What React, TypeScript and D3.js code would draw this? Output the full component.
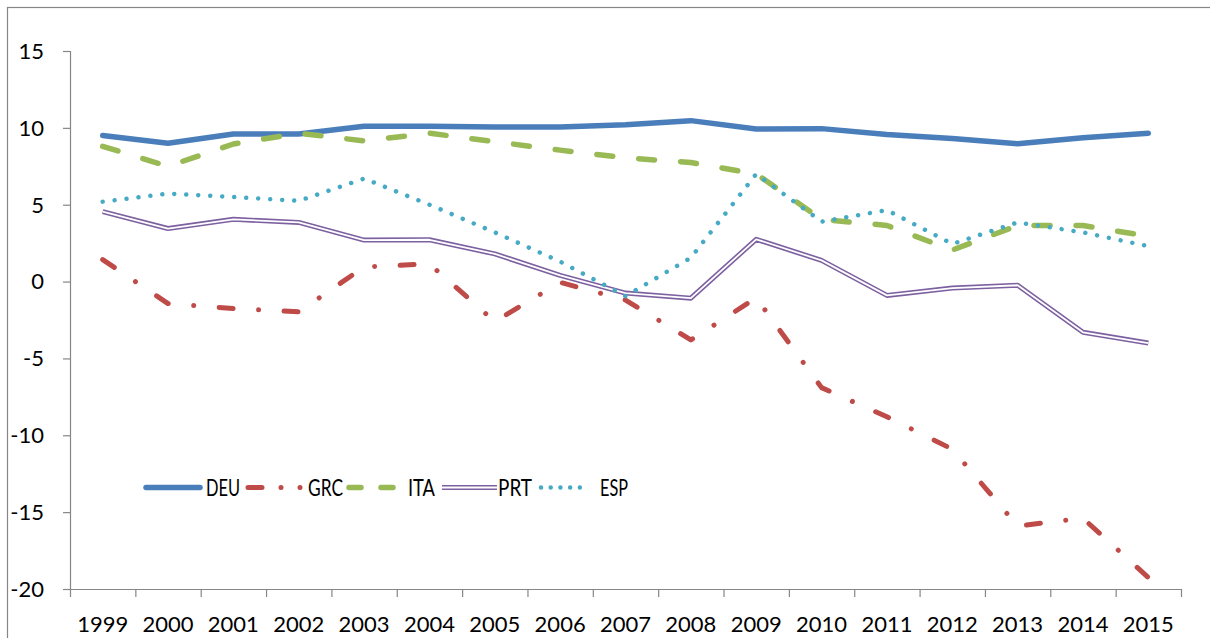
import * as React from "react"
import * as d3 from "d3"

const years = ["1999", "2000", "2001", "2002", "2003", "2004", "2005", "2006", "2007", "2008", "2009", "2010", "2011", "2012", "2013", "2014", "2015"]
const yTicks = [15, 10, 5, 0, -5, -10, -15, -20]

const deu = [9.5, 9.0, 9.6, 9.6, 10.1, 10.1, 10.05, 10.05, 10.2, 10.47, 9.93, 9.95, 9.57, 9.3, 8.97, 9.35, 9.65]
const grc = [1.43, -1.43, -1.75, -1.97, 0.95, 1.15, -2.6, -0.05, -1.2, -3.8, -1.06, -6.9, -8.8, -10.9, -15.9, -15.4, -19.25]
const ita = [8.8, 7.5, 8.95, 9.65, 9.15, 9.65, 9.1, 8.55, 8.05, 7.75, 7.0, 4.05, 3.65, 2.05, 3.65, 3.65, 2.95]
const prt = [4.55, 3.45, 4.05, 3.85, 2.7, 2.72, 1.8, 0.4, -0.75, -1.08, 2.75, 1.38, -0.9, -0.42, -0.24, -3.3, -4.0]
const esp = [5.2, 5.72, 5.5, 5.25, 6.7, 5.0, 3.2, 1.3, -0.95, 1.55, 7.0, 3.9, 4.65, 2.45, 3.85, 3.2, 2.3]

const font = "Lato, 'Open Sans', sans-serif"
const axisColor = "#868686"

type Series = { name: string, values: number[], color: string, dash?: string, legendDash?: string, width: number, double?: boolean }

const series: Series[] = [
    { name: "DEU", values: deu, color: "#4A7EBB", width: 5.5 },
    { name: "GRC", values: grc, color: "#BE4B48", width: 5, dash: "14 25.5 0.01 25.5", legendDash: "14 19 0.01 19 0.01 30" },
    { name: "ITA", values: ita, color: "#98B954", width: 5.5, dash: "16 26", legendDash: "12 20" },
    { name: "PRT", values: prt, color: "#7D60A0", width: 5, double: true },
    { name: "ESP", values: esp, color: "#46AAC5", width: 4.5, dash: "0.01 12", legendDash: "0.01 9.7" },
]

// legend layout: line start / end, label start, label width
const legendLine = [[146, 200], [248, 303], [349, 398], [442, 497], [541, 589]]
const legendText = [[206, 34], [308, 35], [408, 27], [498, 34], [600, 28]]

export default function App() {
    const [w, h] = [1210, 638]
    const m = { left: 70, right: 1181, top: 51, bottom: 589 }

    const xScale = d3.scaleBand().domain(years).range([m.left, m.right])
    const yScale = d3.scaleLinear().domain([-20, 15]).range([m.bottom, m.top])

    const cx = (i: number) => (xScale(years[i]) ?? 0) + xScale.bandwidth() / 2
    const line = d3.line<number>().x((_, i) => cx(i)).y(d => yScale(d))

    const xTickPos = years.map(y => xScale(y) ?? 0).concat([m.right])

    const drawLine = (s: Series, d: string | null, key: string, dash?: string) => {
        if (s.double) {
            return (
                <g key={key}>
                    <path d={d ?? ""} fill="none" stroke={s.color} strokeWidth={s.width} strokeLinejoin="round" strokeLinecap="butt" />
                    <path d={d ?? ""} fill="none" stroke="white" strokeWidth={1.8} strokeLinejoin="round" strokeLinecap="butt" />
                </g>
            )
        }
        return (
            <path key={key} d={d ?? ""} fill="none" stroke={s.color} strokeWidth={s.width}
                strokeDasharray={dash} strokeLinejoin="round" strokeLinecap="round" />
        )
    }

    return (
        <svg width={w} height={h} style={{ position: "absolute", left: 0, top: 0, background: "white" }} fontFamily={font}>
            <rect x={7.5} y={7.5} width={w + 20} height={h + 20} fill="white" stroke={axisColor} strokeWidth={1.2} />

            {/* y axis */}
            <line x1={m.left + 0.5} x2={m.left + 0.5} y1={m.top} y2={m.bottom} stroke={axisColor} strokeWidth={1.2} />
            {yTicks.map(t => (
                <g key={t}>
                    <line x1={m.left - 7} x2={m.left} y1={yScale(t) + 0.5} y2={yScale(t) + 0.5} stroke={axisColor} strokeWidth={1.2} />
                    <text x={44} y={yScale(t)} dy="0.36em" textAnchor="end" fontSize={22} fill="black">{t}</text>
                </g>
            ))}

            {/* x axis */}
            <line x1={m.left} x2={m.right} y1={m.bottom + 0.5} y2={m.bottom + 0.5} stroke={axisColor} strokeWidth={1.2} />
            {xTickPos.map((x, i) => (
                <line key={i} x1={x + 0.5} x2={x + 0.5} y1={m.bottom} y2={m.bottom + 8} stroke={axisColor} strokeWidth={1.2} />
            ))}
            {years.map((y, i) => (
                <text key={y} x={cx(i)} y={632} textAnchor="middle" fontSize={22} fill="black">{y}</text>
            ))}

            {/* series */}
            {series.map(s => drawLine(s, line(s.values), s.name, s.dash))}

            {/* legend */}
            {series.map((s, i) => {
                const [x0, x1] = legendLine[i]
                const [tx, tw] = legendText[i]
                const ly = 487.5
                const d = `M${x0},${ly}L${x1},${ly}`
                return (
                    <g key={"lg" + s.name}>
                        {drawLine(s, d, "l", s.legendDash)}
                        <text x={tx} y={ly} dy="0.36em" fontSize={24} fill="black"
                            textLength={tw} lengthAdjust="spacingAndGlyphs">{s.name}</text>
                    </g>
                )
            })}
        </svg>
    )
}
